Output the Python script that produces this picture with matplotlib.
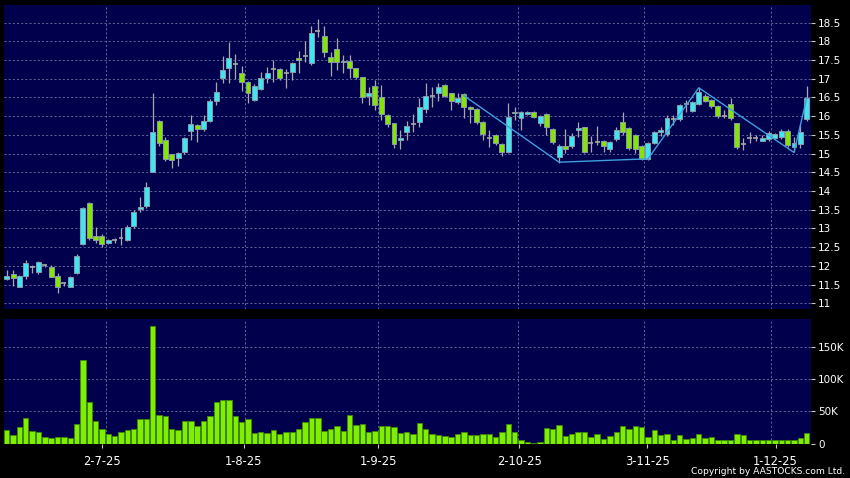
import matplotlib
matplotlib.use("Agg")
import matplotlib.pyplot as plt
from matplotlib.ticker import FixedLocator, FuncFormatter
import numpy as np

# Daily candles (price in HKD), one entry per trading day
opens = [11.64, 11.79, 11.44, 11.72, 11.96, 11.83, 12.01, 11.96, 11.74, 11.55,
         11.44, 11.80, 12.57, 13.67, 12.80, 12.80, 12.62, 12.70, 12.74, 12.69,
         13.06, 13.51, 13.60, 14.52, 15.88, 15.36, 14.98, 14.87, 15.05, 15.61,
         15.77, 15.67, 15.88, 16.41, 17.03, 17.30, 17.39, 17.15, 16.91, 16.43,
         16.72, 17.01, 17.26, 17.25, 17.15, 17.19, 17.55, 17.62, 17.43, 18.29,
         18.14, 17.57, 17.79, 17.44, 17.48, 17.28, 17.04, 16.54, 16.81, 16.51,
         16.03, 15.81, 15.36, 15.57, 15.78, 15.85, 16.18, 16.55, 16.61, 16.83,
         16.61, 16.39, 16.59, 16.25, 16.18, 15.85, 15.43, 15.50, 15.26, 15.05,
         16.12, 15.94, 16.06, 16.10, 15.81, 16.05, 15.65, 14.90, 15.20, 15.21,
         15.62, 15.70, 15.29, 15.30, 15.34, 15.11, 15.38, 15.85, 15.68, 15.50,
         15.21, 14.86, 15.28, 15.57, 15.52, 15.92, 15.92, 16.33, 16.13, 16.33,
         16.55, 16.43, 16.28, 16.01, 16.32, 15.81, 15.26, 15.43, 15.41, 15.35,
         15.38, 15.41, 15.44, 15.61, 15.18, 15.26, 15.92]
highs = [11.88, 11.89, 11.76, 12.15, 12.03, 12.14, 12.05, 12.02, 11.80, 11.58,
         11.73, 12.32, 13.56, 13.70, 13.05, 12.85, 12.72, 12.75, 13.00, 13.08,
         13.48, 13.85, 14.25, 16.63, 15.90, 15.45, 15.00, 15.03, 15.45, 16.03,
         15.80, 16.03, 16.45, 16.92, 17.61, 17.99, 17.66, 17.34, 16.95, 16.85,
         17.19, 17.31, 17.50, 17.28, 17.25, 17.45, 17.73, 18.00, 18.41, 18.59,
         18.41, 17.72, 18.08, 17.64, 17.64, 17.30, 17.06, 16.79, 16.97, 16.83,
         16.05, 15.83, 15.63, 15.87, 16.06, 16.48, 16.88, 16.77, 16.88, 16.86,
         16.63, 16.63, 16.62, 16.28, 16.22, 15.88, 15.63, 15.52, 15.28, 16.35,
         16.25, 16.14, 16.13, 16.13, 16.04, 16.08, 15.68, 15.25, 15.65, 15.55,
         15.85, 15.72, 15.47, 15.74, 15.37, 15.33, 15.72, 16.12, 15.70, 15.52,
         15.24, 15.31, 15.60, 15.72, 16.03, 16.03, 16.33, 16.43, 16.40, 16.75,
         16.60, 16.46, 16.30, 16.17, 16.49, 15.83, 15.41, 15.59, 15.50, 15.50,
         15.60, 15.55, 15.65, 15.66, 15.45, 15.76, 16.81]
lows = [11.62, 11.46, 11.43, 11.65, 11.80, 11.77, 11.98, 11.70, 11.28, 11.45,
        11.42, 11.78, 12.55, 12.68, 12.62, 12.50, 12.58, 12.62, 12.55, 12.65,
        13.02, 13.43, 13.55, 14.50, 15.20, 14.80, 14.62, 14.68, 14.98, 15.36,
        15.32, 15.60, 15.85, 16.30, 16.90, 16.88, 16.99, 16.68, 16.34, 16.40,
        16.70, 16.90, 16.92, 16.98, 16.75, 16.97, 17.15, 17.45, 17.37, 18.13,
        17.59, 17.07, 17.24, 17.15, 17.02, 17.00, 16.36, 16.30, 16.17, 15.90,
        15.72, 15.14, 15.11, 15.36, 15.59, 15.72, 16.08, 16.24, 16.41, 16.52,
        16.17, 16.32, 15.94, 15.81, 15.78, 15.36, 15.18, 15.22, 14.94, 15.02,
        15.90, 15.63, 16.02, 15.96, 15.75, 15.50, 15.25, 14.76, 15.01, 15.15,
        15.45, 15.02, 15.05, 15.23, 15.05, 15.05, 15.35, 15.50, 15.10, 15.01,
        14.83, 14.84, 15.25, 15.48, 15.48, 15.76, 15.88, 16.10, 16.10, 16.30,
        16.38, 16.22, 15.95, 15.94, 15.90, 15.12, 15.10, 15.28, 15.35, 15.33,
        15.33, 15.38, 15.40, 15.18, 15.03, 15.16, 15.88]
closes = [11.74, 11.67, 11.74, 12.07, 11.96, 12.09, 12.01, 11.71, 11.42, 11.55,
          11.71, 12.25, 13.54, 12.74, 12.70, 12.58, 12.68, 12.70, 12.74, 13.05,
          13.43, 13.58, 14.10, 15.59, 15.28, 14.85, 14.83, 15.01, 15.43, 15.78,
          15.67, 15.88, 16.41, 16.64, 17.24, 17.55, 17.39, 16.92, 16.61, 16.82,
          17.01, 17.15, 17.26, 17.03, 17.15, 17.41, 17.49, 17.62, 18.22, 18.29,
          17.72, 17.44, 17.46, 17.48, 17.28, 17.04, 16.51, 16.61, 16.30, 16.06,
          15.78, 15.26, 15.42, 15.74, 15.78, 16.24, 16.54, 16.55, 16.77, 16.55,
          16.41, 16.48, 16.25, 16.18, 15.85, 15.52, 15.43, 15.28, 15.05, 15.97,
          16.08, 16.10, 16.10, 15.99, 16.01, 15.70, 15.30, 15.21, 15.11, 15.48,
          15.68, 15.05, 15.29, 15.30, 15.20, 15.30, 15.62, 15.57, 15.14, 15.11,
          14.86, 15.28, 15.57, 15.62, 15.94, 15.92, 16.30, 16.33, 16.37, 16.64,
          16.41, 16.28, 16.01, 16.01, 15.96, 15.17, 15.26, 15.43, 15.41, 15.43,
          15.56, 15.52, 15.61, 15.23, 15.29, 15.59, 16.48]

# Daily volume, thousands of shares
volumes = [20.8, 14.0, 25.0, 40.0, 19.8, 18.2, 9.9, 8.3, 9.9, 9.4,
           8.9, 29.7, 131.0, 65.6, 34.9, 21.9, 15.6, 12.0, 18.2, 20.8,
           23.4, 37.5, 38.5, 184.0, 44.3, 43.2, 21.9, 21.4, 35.4, 35.9,
           28.1, 35.4, 42.2, 65.6, 67.7, 68.7, 43.2, 33.9, 38.0, 16.7,
           17.2, 16.1, 20.8, 15.6, 17.2, 17.2, 23.4, 33.3, 40.6, 40.6,
           20.3, 23.4, 26.6, 19.3, 44.3, 28.6, 29.7, 17.7, 20.3, 28.1,
           27.1, 25.5, 16.1, 17.2, 14.1, 31.8, 22.9, 15.6, 13.0, 12.0,
           10.4, 14.1, 18.7, 13.0, 13.0, 15.1, 14.1, 10.9, 18.7, 30.2,
           17.7, 4.7, 1.6, 1.0, 1.6, 24.0, 21.9, 28.6, 12.0, 15.6,
           17.7, 18.7, 10.4, 15.1, 7.3, 12.0, 17.7, 28.1, 21.9, 28.1,
           26.0, 9.9, 20.8, 12.5, 14.1, 5.2, 13.5, 7.8, 8.3, 14.1,
           8.3, 9.9, 6.2, 5.7, 5.2, 15.6, 13.5, 4.7, 4.7, 6.2,
           4.7, 5.2, 5.2, 5.2, 5.2, 8.9, 16.7]

# Month markers on the day axis
date_ticks = [15.0, 37.3, 58.5, 80.7, 100.9, 121.1]
date_labels = ["2-7-25", "1-8-25", "1-9-25", "2-10-25", "3-11-25", "1-12-25"]
month_grid = [15.6, 37.6, 58.5, 80.6, 100.4, 120.3]

# Zigzag trend overlay (day index, price)
zigzag_days = [72, 87, 101, 109, 124, 126]
zigzag_prices = [16.55, 14.77, 14.86, 16.76, 15.03, 16.48]

price_ticks = [11, 11.5, 12, 12.5, 13, 13.5, 14, 14.5, 15, 15.5, 16, 16.5, 17, 17.5, 18, 18.5]
volume_ticks = [0, 50, 100, 150]

BG = "#000000"
PANEL = "#00004c"
UP = "#3ce6f2"
DOWN = "#84e600"
EDGE = "#8a9aa8"
WICK = "#a8a8a8"
GRID = "#6a76a8"
VOL = "#80ee00"
VOL_EDGE = "#3f8a00"

W, H = 850, 478
fig = plt.figure(figsize=(W / 100, H / 100), dpi=100, facecolor=BG)
ax_p = fig.add_axes([4 / W, (H - 309) / H, 806.5 / W, 304 / H], facecolor=PANEL)
ax_v = fig.add_axes([4 / W, (H - 443.5) / H, 806.5 / W, 124.5 / H], facecolor=PANEL)

x = np.arange(len(opens))
o = np.array(opens)
c = np.array(closes)
hi = np.array(highs)
lo = np.array(lows)

# wicks
ax_p.vlines(x, lo, hi, color=WICK, linewidth=0.9, zorder=2)

up = c > o
down = c < o
flat = c == o
body_w = 0.78
ax_p.bar(x[up], (c - o)[up], bottom=o[up], width=body_w, color=UP,
         edgecolor=EDGE, linewidth=0.7, zorder=3)
ax_p.bar(x[down], (o - c)[down], bottom=c[down], width=body_w, color=DOWN,
         edgecolor=EDGE, linewidth=0.7, zorder=3)
ax_p.hlines(c[flat], x[flat] - body_w / 2, x[flat] + body_w / 2, color=WICK,
            linewidth=1.2, zorder=3)

ax_p.plot(zigzag_days, zigzag_prices, color="#3f9fe0", linewidth=1.0, zorder=4)

ax_v.bar(x, volumes, width=0.85, color=VOL, edgecolor=VOL_EDGE, linewidth=0.6, zorder=3)

for ax in (ax_p, ax_v):
    ax.set_xlim(-0.43, 126.6)
    for s in ax.spines.values():
        s.set_visible(False)
    ax.yaxis.tick_right()
    ax.tick_params(axis="y", length=3, width=0.8, color="#c8c8c8", pad=2.5,
                   labelcolor="white", labelsize=7.5)
    for gx in month_grid:
        ax.axvline(gx, color=GRID, linewidth=0.6, linestyle=(0, (2.5, 2.5)), zorder=1)

ax_p.set_ylim(10.845, 18.973)
ax_p.yaxis.set_major_locator(FixedLocator(price_ticks))
ax_p.yaxis.set_major_formatter(FuncFormatter(lambda v, _: f"{v:g}"))
ax_p.set_xticks([])
for gy in price_ticks:
    ax_p.axhline(gy, color=GRID, linewidth=0.6, linestyle=(0, (2.5, 2.5)), zorder=1)

ax_v.set_ylim(0, 194.5)
ax_v.yaxis.set_major_locator(FixedLocator(volume_ticks))
ax_v.yaxis.set_major_formatter(FuncFormatter(lambda v, _: "0" if v == 0 else f"{v:g}K"))
for gy in volume_ticks[1:]:
    ax_v.axhline(gy, color=GRID, linewidth=0.6, linestyle=(0, (2.5, 2.5)), zorder=1)
ax_v.set_xticks(date_ticks)
ax_v.set_xticklabels(date_labels)
ax_v.tick_params(axis="x", length=3, width=0.8, color="#c8c8c8", pad=5,
                 labelcolor="white", labelsize=8.3)

fig.text(845 / W, 2 / H, "Copyright by AASTOCKS.com Ltd.", color="white",
         fontsize=6.6, ha="right", va="bottom")

fig.savefig("out.png", dpi=100, facecolor=BG)
